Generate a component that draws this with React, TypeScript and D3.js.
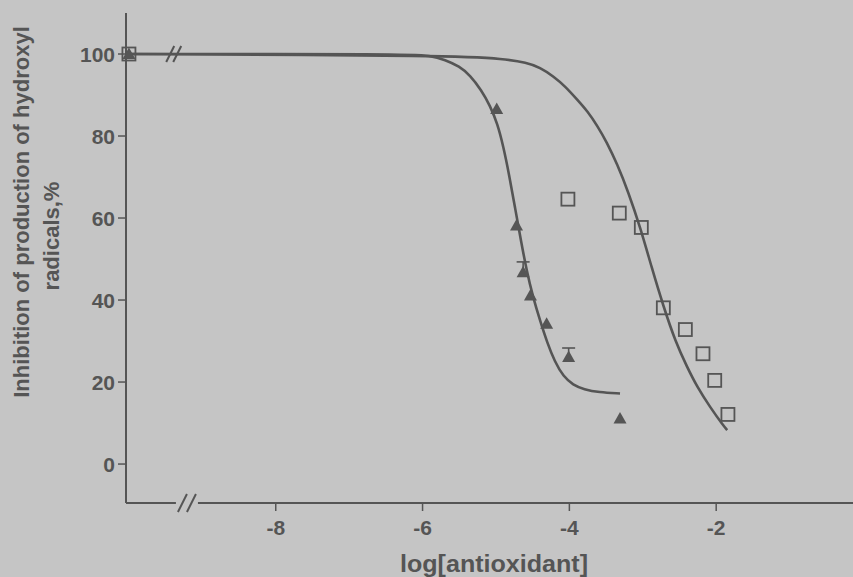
import * as d3 from "d3";

// axis ticks
const xTicks = [-8, -6, -4, -2];
const yTicks = [0, 20, 40, 60, 80, 100];

// filled triangles
const triX = [-10, -4.99, -4.72, -4.63, -4.53, -4.31, -4.01, -3.31];
const triY = [100, 86.6, 58.2, 46.8, 41.1, 34.2, 26.1, 11.1];
// upper error bars (index into triangles, top value)
const triErrIdx = [3, 6];
const triErrTop = [49.3, 28.3];

// open squares
const sqX = [-10, -4.02, -3.32, -3.02, -2.72, -2.42, -2.18, -2.02, -1.84];
const sqY = [100, 64.6, 61.2, 57.7, 38.1, 32.8, 26.9, 20.4, 12.1];

// fitted curves
const triCurveX = [-10, -6.2, -5.9, -5.69, -5.5, -5.35, -5.2, -5.08, -4.98, -4.9, -4.82, -4.74, -4.66, -4.58, -4.5, -4.4, -4.3, -4.2, -4.08, -3.95, -3.8, -3.6, -3.31];
const triCurveY = [100, 100, 99.6, 98.6, 97, 94.8, 91.2, 87.4, 83, 77.5, 70.5, 62.5, 54.5, 47, 41, 35, 29.5, 25, 21.3, 19.3, 18.2, 17.5, 17.2];
const sqCurveX = [-10, -5.5, -4.9, -4.58, -4.4, -4.22, -4.05, -3.9, -3.75, -3.62, -3.49, -3.35, -3.2, -3.03, -2.88, -2.72, -2.55, -2.4, -2.26, -2.08, -1.9, -1.85];
const sqCurveY = [100, 99.6, 98.8, 97.9, 96.7, 94.6, 92, 89, 86, 82.5, 78.5, 73.2, 66.5, 57.5, 48, 38.5, 29.6, 23.8, 18.8, 13.8, 9.3, 8.3];

// axis-break marks
const breakTopX = [-9.39];
const breakTopY = [100];
const breakBotX = [-9.21];

const W = 853;
const H = 577;
const ink = "#555555";
const bg = "#c5c5c5";
const font = "'Liberation Sans', Arial, sans-serif";

export default function App() {
  const x = d3.scaleLinear().domain([-10.04, 0]).range([126, 863]);
  const y = d3.scaleLinear().domain([-9.5, 110]).range([503, 13]);

  const line = d3
    .line<[number, number]>()
    .x((d) => x(d[0]))
    .y((d) => y(d[1]))
    .curve(d3.curveBasis);

  const triCurve = triCurveX.map((v, i) => [v, triCurveY[i]] as [number, number]);
  const sqCurve = sqCurveX.map((v, i) => [v, sqCurveY[i]] as [number, number]);

  const triPath = "M0,-6.5L6.5,5L-6.5,5Z";
  const x0 = x.range()[0];
  const yBottom = y.range()[0];

  const slashes = (cx: number, cy: number, half: number, gap: number) => (
    <g stroke={ink} strokeWidth={2}>
      <line x1={cx - gap - half / 2} y1={cy + half} x2={cx - gap + half / 2} y2={cy - half} />
      <line x1={cx + gap - half / 2} y1={cy + half} x2={cx + gap + half / 2} y2={cy - half} />
    </g>
  );

  return (
    <svg
      width={W}
      height={H}
      style={{ position: "fixed", left: 0, top: 0, background: bg }}
      fontFamily={font}
    >
      <rect width={W} height={H} fill={bg} />

      {/* axes */}
      <line x1={x0} x2={x0} y1={y.range()[1]} y2={yBottom} stroke={ink} strokeWidth={2} />
      <line x1={x0} x2={W} y1={yBottom} y2={yBottom} stroke={ink} strokeWidth={2} />

      {yTicks.map((t) => (
        <g key={"y" + t}>
          <line x1={x0 - 8} x2={x0} y1={y(t)} y2={y(t)} stroke={ink} strokeWidth={1.5} />
          <text
            x={x0 - 11}
            y={y(t)}
            dy="0.36em"
            textAnchor="end"
            fontSize={21}
            fontWeight="bold"
            fill={ink}
          >
            {t}
          </text>
        </g>
      ))}

      {xTicks.map((t) => (
        <g key={"x" + t}>
          <line x1={x(t)} x2={x(t)} y1={yBottom} y2={yBottom + 8} stroke={ink} strokeWidth={1.5} />
          <text x={x(t)} y={535} textAnchor="middle" fontSize={21} fontWeight="bold" fill={ink}>
            {t}
          </text>
        </g>
      ))}

      {/* axis breaks */}
      {breakTopX.map((b, i) => (
        <g key={"bt" + i}>
          <rect x={x(b) - 9} y={y(breakTopY[i]) - 2} width={18} height={4} fill={bg} />
          {slashes(x(b), y(breakTopY[i]), 8, 3.5)}
        </g>
      ))}
      {breakBotX.map((b, i) => (
        <g key={"bb" + i}>
          <rect x={x(b) - 11} y={yBottom - 2} width={22} height={4} fill={bg} />
          {slashes(x(b), yBottom, 9, 4.5)}
        </g>
      ))}

      {/* curves */}
      <path d={line(sqCurve) ?? ""} fill="none" stroke={ink} strokeWidth={2.6} />
      <path d={line(triCurve) ?? ""} fill="none" stroke={ink} strokeWidth={2.6} />

      {/* error bars */}
      {triErrIdx.map((idx, i) => (
        <g key={"e" + i} stroke={ink} strokeWidth={1.6}>
          <line x1={x(triX[idx])} x2={x(triX[idx])} y1={y(triY[idx])} y2={y(triErrTop[i])} />
          <line x1={x(triX[idx]) - 6.5} x2={x(triX[idx]) + 6.5} y1={y(triErrTop[i])} y2={y(triErrTop[i])} />
        </g>
      ))}

      {/* squares */}
      {sqX.map((v, i) => (
        <rect
          key={"s" + i}
          x={x(v) - 6.5}
          y={y(sqY[i]) - 6.5}
          width={13}
          height={13}
          fill="none"
          stroke={ink}
          strokeWidth={1.8}
        />
      ))}

      {/* triangles */}
      {triX.map((v, i) => (
        <path key={"t" + i} d={triPath} transform={`translate(${x(v)},${y(triY[i])})`} fill={ink} />
      ))}

      {/* axis titles */}
      <text
        x={494}
        y={572}
        textAnchor="middle"
        fontSize={24}
        fontWeight="bold"
        fill={ink}
        textLength={188}
        lengthAdjust="spacingAndGlyphs"
      >
        log[antioxidant]
      </text>
      <text
        transform="translate(29,212) rotate(-90)"
        textAnchor="middle"
        fontSize={22}
        fontWeight="bold"
        fill={ink}
      >
        Inhibition of production of hydroxyl
      </text>
      <text
        transform="translate(59,236) rotate(-90)"
        textAnchor="middle"
        fontSize={22}
        fontWeight="bold"
        fill={ink}
      >
        radicals,%
      </text>
    </svg>
  );
}
